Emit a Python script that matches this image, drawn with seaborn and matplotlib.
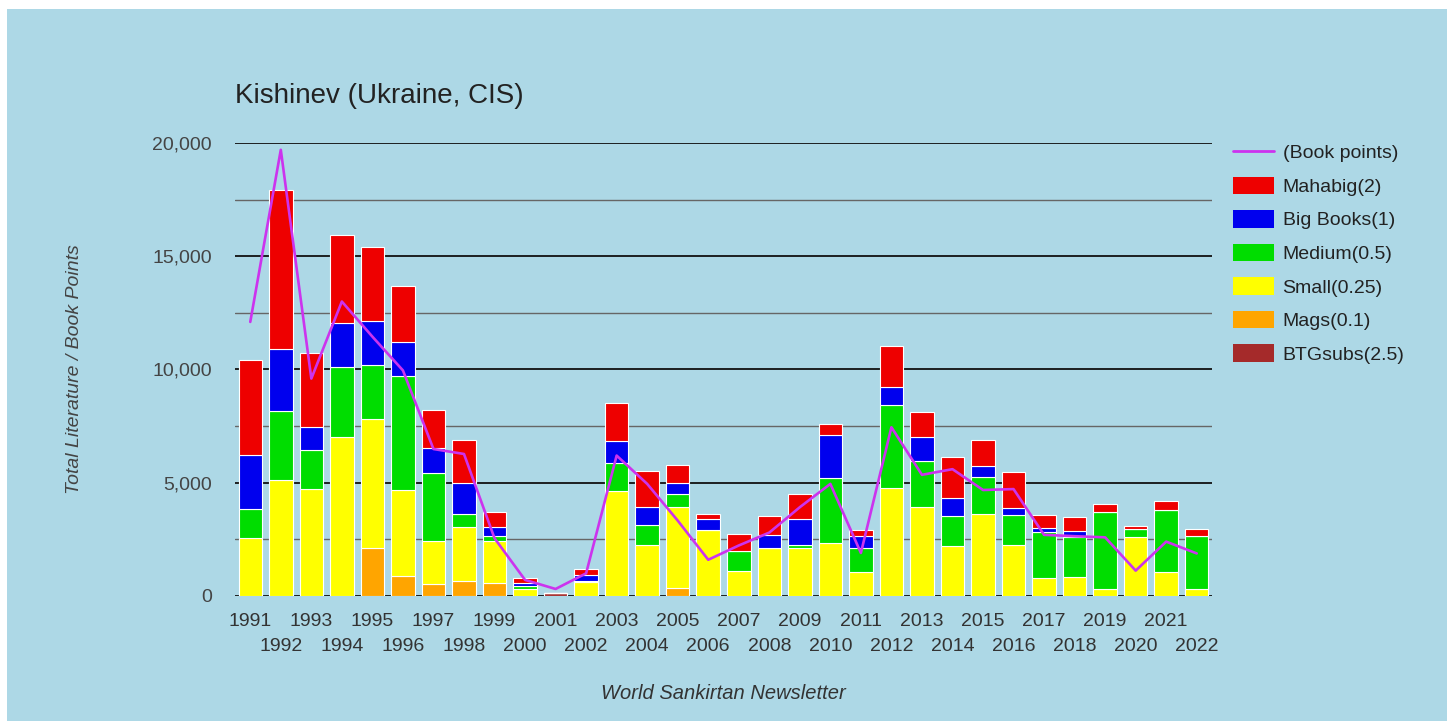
import matplotlib
matplotlib.use("Agg")
import matplotlib.pyplot as plt
from matplotlib.patches import Patch, Rectangle
from matplotlib.lines import Line2D
from matplotlib.ticker import FuncFormatter
import numpy as np
import pandas as pd
import seaborn as sns

# values
years = list(range(1991, 2023))
mahabig = [4180, 7040, 3280, 3880, 3290, 2470, 1700, 1900, 690, 220, 0, 265,
           1660, 1590, 800, 190, 770, 820, 1100, 490, 250, 1800, 1100, 1810,
           1150, 1600, 600, 590, 370, 120, 380, 320]
big_books = [2360, 2750, 990, 1950, 1950, 1510, 1110, 1370, 400, 120, 0, 250,
             990, 810, 490, 490, 0, 570, 1130, 1900, 520, 800, 1060, 770,
             500, 310, 150, 260, 0, 0, 0, 0]
medium = [1280, 3030, 1740, 3100, 2380, 5030, 2980, 560, 190, 150, 0, 50,
          1250, 880, 590, 0, 850, 0, 150, 2890, 1080, 3690, 2060, 1330,
          1620, 1310, 2060, 1800, 3390, 370, 2750, 2330]
small = [2580, 5120, 4720, 7010, 5700, 3790, 1890, 2390, 1890, 310, 0, 630,
         4620, 2250, 3560, 2920, 1120, 2120, 2120, 2330, 1050, 4750, 3920, 2220,
         3620, 2270, 780, 820, 310, 2590, 1050, 310]
mags = [0, 0, 0, 0, 2110, 890, 550, 660, 560, 0, 0, 0,
        0, 0, 350, 0, 0, 0, 0, 0, 0, 0, 0, 0,
        0, 0, 0, 0, 0, 0, 0, 0]
btgsubs = [0, 0, 0, 0, 0, 0, 0, 0, 0, 0, 125, 0,
           0, 0, 0, 0, 0, 0, 0, 0, 0, 0, 0, 0,
           0, 0, 0, 0, 0, 0, 0, 0]
book_points = [12100, 19700, 9600, 13000, 11450, 9960, 6490, 6270, 2550, 710, 310, 1000,
               6200, 4950, 3330, 1600, 2230, 2800, 3920, 4950, 1900, 7450, 5350, 5600,
               4680, 4720, 2700, 2640, 2590, 1120, 2400, 1880]

series_names = ["Mahabig(2)", "Big Books(1)", "Medium(0.5)", "Small(0.25)", "Mags(0.1)", "BTGsubs(2.5)"]
series_colors = ["#ee0000", "#0000ee", "#00dd00", "#ffff00", "#ffa500", "#a52a2a"]
line_color = "#cc33ee"
bg = "#add8e6"

wide = pd.DataFrame({"year": years,
                     "Mahabig(2)": mahabig,
                     "Big Books(1)": big_books,
                     "Medium(0.5)": medium,
                     "Small(0.25)": small,
                     "Mags(0.1)": mags,
                     "BTGsubs(2.5)": btgsubs})
df = wide.melt(id_vars="year", var_name="series", value_name="value")

sns.set_style("white")
plt.rcParams["font.family"] = ["Liberation Sans", "DejaVu Sans"]

fig = plt.figure(figsize=(14.5, 7.21), dpi=100, facecolor="white")
# light blue panel with thin white border top/left/right
fig.patches.append(Rectangle((7 / 1450, 0), 1440 / 1450, 712 / 721,
                             transform=fig.transFigure, facecolor=bg,
                             edgecolor="none", zorder=-10))
ax = fig.add_axes([235 / 1450, 125 / 721, 977 / 1450, 453 / 721])
ax.set_facecolor("none")

# stacked bars (last hue level ends up at the bottom)
sns.histplot(data=df, x="year", weights="value", hue="series",
             hue_order=series_names, palette=dict(zip(series_names, series_colors)),
             multiple="stack", discrete=True, shrink=0.77, alpha=1,
             edgecolor="white", linewidth=0.8, legend=False, ax=ax, zorder=3)

sns.lineplot(x=years, y=book_points, color=line_color, linewidth=1.9, ax=ax, zorder=5)

ax.set_xlim(1990.5, 2022.5)
ax.set_ylim(0, 20000)

# gridlines
ax.set_yticks(np.arange(0, 20001, 5000))
ax.set_yticks(np.arange(2500, 20000, 5000), minor=True)
ax.yaxis.set_major_formatter(FuncFormatter(lambda v, p: f"{v:,.0f}"))
ax.grid(axis="y", which="major", color="#111111", linewidth=1.3, zorder=1)
ax.grid(axis="y", which="minor", color="#666666", linewidth=1.0, zorder=1)
ax.set_axisbelow(True)
for s in ax.spines.values():
    s.set_visible(False)

# year labels in two staggered rows
odd = [y for y in years if y % 2 == 1]
even = [y for y in years if y % 2 == 0]
ax.set_xticks(odd, [str(y) for y in odd])
ax.set_xticks(even, [str(y) for y in even], minor=True)
ax.tick_params(axis="x", which="major", length=0, pad=12, labelsize=14, labelcolor="#333333")
ax.tick_params(axis="x", which="minor", length=0, pad=30, labelsize=14, labelcolor="#333333")
ax.tick_params(axis="y", which="both", length=0, pad=16.5, labelsize=14, labelcolor="#444444")

ax.set_ylabel("Total Literature / Book Points", fontsize=14, style="italic", color="#444444")
ax.yaxis.set_label_coords(-0.156, 0.5)
ax.set_xlabel("World Sankirtan Newsletter", fontsize=14.5, style="italic", color="#333333")
ax.xaxis.set_label_coords(0.5, -0.194)

ax.set_title("Kishinev (Ukraine, CIS)", loc="left", fontsize=20, color="#222222", pad=28.8)

handles = [Line2D([0], [0], color=line_color, linewidth=2)]
handles += [Patch(facecolor=c, edgecolor="none") for c in series_colors]
labels = ["(Book points)"] + series_names
leg = fig.legend(handles, labels, loc="upper left", bbox_to_anchor=(1233 / 1450, (721 - 143) / 721),
                 frameon=False, fontsize=14, handlelength=2.1, handleheight=1.0,
                 handletextpad=0.45, labelspacing=0.73, borderpad=0, borderaxespad=0)
for t in leg.get_texts():
    t.set_color("#222222")

fig.savefig("out.png", dpi=100, facecolor=fig.get_facecolor())
